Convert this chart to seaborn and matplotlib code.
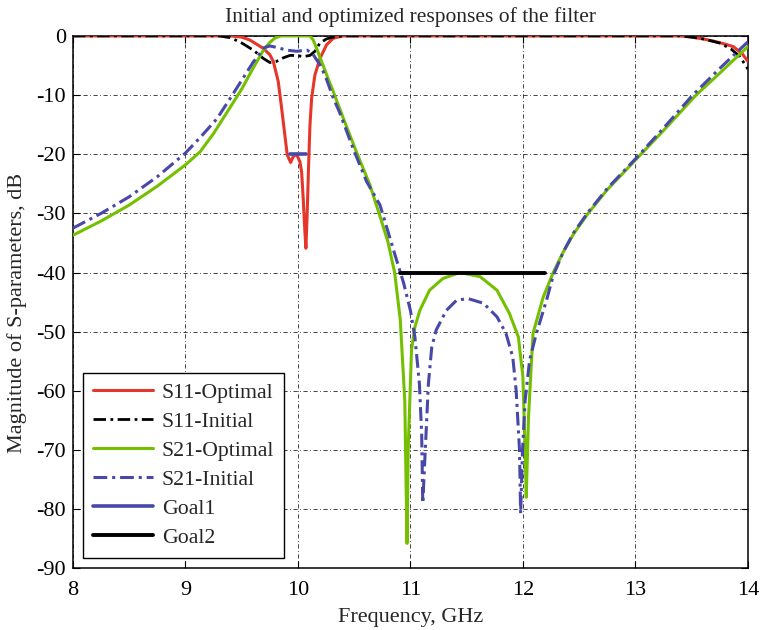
import numpy as np
import pandas as pd
import matplotlib
matplotlib.use("Agg")
import matplotlib.pyplot as plt
import seaborn as sns

# ---------------- data ----------------
s11_opt_f = [8.0, 9.0, 9.4, 9.5, 9.573, 9.692, 9.751, 9.781, 9.825, 9.855, 9.884, 9.905,
             9.935, 9.958, 9.988, 10.018, 10.033, 10.047, 10.062, 10.071, 10.083, 10.095,
             10.107, 10.122, 10.151, 10.196, 10.255, 10.314, 10.4, 11.0, 12.0, 13.0, 13.4,
             13.5, 13.6, 13.7, 13.8, 13.87, 13.95, 14.0]
s11_opt_db = [0.0, 0.0, 0.0, -0.2, -0.7, -2.1, -3.2, -4.3, -7.7, -12.2, -16.8, -20.1,
              -21.4, -20.4, -20.0, -21.3, -23.0, -27.5, -33.1, -35.9, -29.7, -21.8,
              -15.1, -10.5, -6.6, -3.8, -1.5, -0.4, 0.0, 0.0, 0.0, 0.0, 0.0,
              -0.2, -0.5, -0.9, -1.4, -1.8, -3.0, -4.3]

s11_ini_f = [8.0, 9.0, 9.3, 9.396, 9.484, 9.603, 9.692, 9.751, 9.81, 9.87, 9.929, 9.988,
             10.047, 10.107, 10.151, 10.196, 10.255, 10.314, 10.4, 11.0, 12.0, 13.0, 13.4,
             13.5, 13.6, 13.75, 13.85, 13.93, 14.0]
s11_ini_db = [0.0, 0.0, 0.0, -0.3, -1.0, -2.4, -3.8, -4.5, -4.3, -3.7, -3.3, -3.3,
              -3.5, -3.3, -2.6, -1.2, -0.5, -0.2, 0.0, 0.0, 0.0, 0.0, 0.0,
              -0.2, -0.5, -1.2, -2.2, -3.5, -5.6]

s21_opt_f = [8.0, 8.25, 8.5, 8.75, 9.0, 9.13, 9.25, 9.4, 9.5, 9.6, 9.7, 9.75, 9.8, 9.85,
             10.0, 10.107, 10.136, 10.166, 10.21, 10.28, 10.314, 10.403, 10.52, 10.64, 10.73,
             10.8, 10.86, 10.91, 10.95, 10.97, 10.98, 11.01, 11.04, 11.084, 11.17, 11.29,
             11.44, 11.62, 11.77, 11.88, 11.96, 12.0, 12.02, 12.03, 12.05, 12.09, 12.18,
             12.27, 12.36, 12.45, 12.58, 12.75, 13.0, 13.25, 13.54, 13.75, 14.0]
s21_opt_db = [-33.7, -31.3, -28.6, -25.4, -21.8, -19.6, -16.5, -12.0, -9.0, -5.5, -2.2, -1.1, -0.3, 0.0,
              0.0, 0.0, -0.7, -2.1, -4.3, -7.8, -9.4, -13.9, -19.6, -25.2, -30.5,
              -34.8, -40.0, -48.0, -61.6, -85.8, -70.0, -53.1, -49.2, -46.4, -43.0, -41.0,
              -40.0, -40.7, -43.0, -46.9, -50.9, -57.6, -70.0, -78.0, -64.4, -50.3, -44.2,
              -40.0, -36.5, -33.5, -30.0, -26.0, -21.0, -16.0, -10.0, -6.3, -1.8]

s21_ini_f = [8.0, 8.25, 8.5, 8.75, 9.0, 9.13, 9.28, 9.4, 9.5, 9.6, 9.7, 9.75, 9.8, 9.9,
             9.99, 10.08, 10.13, 10.2, 10.25, 10.314, 10.37, 10.49, 10.61, 10.73, 10.85,
             10.94, 11.0, 11.04, 11.08, 11.1, 11.11, 11.16, 11.19, 11.23, 11.32, 11.41,
             11.51, 11.65, 11.77, 11.85, 11.91, 11.94, 11.97, 11.98, 11.997, 12.02, 12.06,
             12.12, 12.21, 12.27, 12.36, 12.45, 12.58, 12.75, 13.0, 13.25, 13.51, 13.75, 14.0]
s21_ini_db = [-32.5, -30.0, -27.2, -23.8, -19.8, -17.2, -14.0, -10.5, -7.5, -4.5, -2.0, -1.7, -1.9, -2.4,
              -2.6, -2.4, -3.0, -5.0, -7.1, -10.5, -12.9, -19.0, -24.6, -28.6, -36.2,
              -41.8, -46.4, -50.9, -58.8, -67.2, -79.0, -58.8, -52.6, -49.7, -46.4, -44.7,
              -44.4, -45.2, -47.5, -50.3, -54.3, -59.9, -70.0, -80.8, -70.0, -61.6, -54.8,
              -50.3, -44.7, -40.5, -36.5, -33.3, -29.8, -25.8, -20.8, -15.6, -10.0, -5.5, -1.0]

goal1_f = [9.93, 10.07]
goal1_db = [-20.0, -20.0]
goal2_f = [10.91, 12.2]
goal2_db = [-40.0, -40.0]

x_ticks = [8, 9, 10, 11, 12, 13, 14]
y_ticks = [0, -10, -20, -30, -40, -50, -60, -70, -80, -90]

# ---------------- style ----------------
sns.set_theme(style="ticks")
plt.rcParams['font.family'] = ['Liberation Serif', 'DejaVu Serif']
plt.rcParams['axes.unicode_minus'] = False

fig = plt.figure(figsize=(7.6, 6.3), dpi=100)
ax = fig.add_axes([0.096, 0.098, 0.888, 0.845])

RED = "#e5362a"
GREEN = "#74c000"
BLUE = "#4848aa"
BLACK = "#000000"
DASHDOT = (0, (4.5, 1.6, 1.0, 1.6))

series = [
    ("S11-Optimal", s11_opt_f, s11_opt_db, RED, "-", 2.2),
    ("S11-Initial", s11_ini_f, s11_ini_db, BLACK, DASHDOT, 2.0),
    ("S21-Optimal", s21_opt_f, s21_opt_db, GREEN, "-", 2.2),
    ("S21-Initial", s21_ini_f, s21_ini_db, BLUE, DASHDOT, 2.2),
    ("Goal1", goal1_f, goal1_db, BLUE, "-", 2.6),
    ("Goal2", goal2_f, goal2_db, BLACK, "-", 2.8),
]

for name, f, db, col, ls, lw in series:
    df = pd.DataFrame({"Frequency": f, "Mag": db})
    sns.lineplot(data=df, x="Frequency", y="Mag", ax=ax, color=col, linestyle=ls,
                 linewidth=lw, label=name, estimator=None, sort=False, zorder=3)

ax.set_xlim(8, 14)
ax.set_ylim(-90, 0)
ax.set_xticks(x_ticks)
ax.set_yticks(y_ticks)
ax.grid(True, color="black", linestyle=(0, (5, 3, 1, 3)), linewidth=0.6, alpha=0.85)
ax.tick_params(direction="in", length=5, width=0.8, top=True, right=True,
               labelsize=16, colors="black")
ax.tick_params(axis="x", pad=9)
ax.tick_params(axis="y", pad=5)
for sp in ax.spines.values():
    sp.set_visible(True)
    sp.set_color("black")
    sp.set_linewidth(1.1)

ax.set_title("Initial and optimized responses of the filter", fontsize=15.5, pad=10)
ax.set_xlabel("Frequency, GHz", fontsize=16, labelpad=6)
ax.set_ylabel("Magnitude of S-parameters, dB", fontsize=16, labelpad=4)
ax.yaxis.set_label_coords(-0.068, 0.479)

leg = ax.legend(loc="lower left", fontsize=15.7, frameon=True, fancybox=False,
                edgecolor="black", framealpha=1.0, handlelength=2.75, handletextpad=0.4,
                labelspacing=0.4, borderpad=0.45, borderaxespad=0.48)
leg.get_frame().set_linewidth(1.0)

fig.savefig("out.png", dpi=100)
